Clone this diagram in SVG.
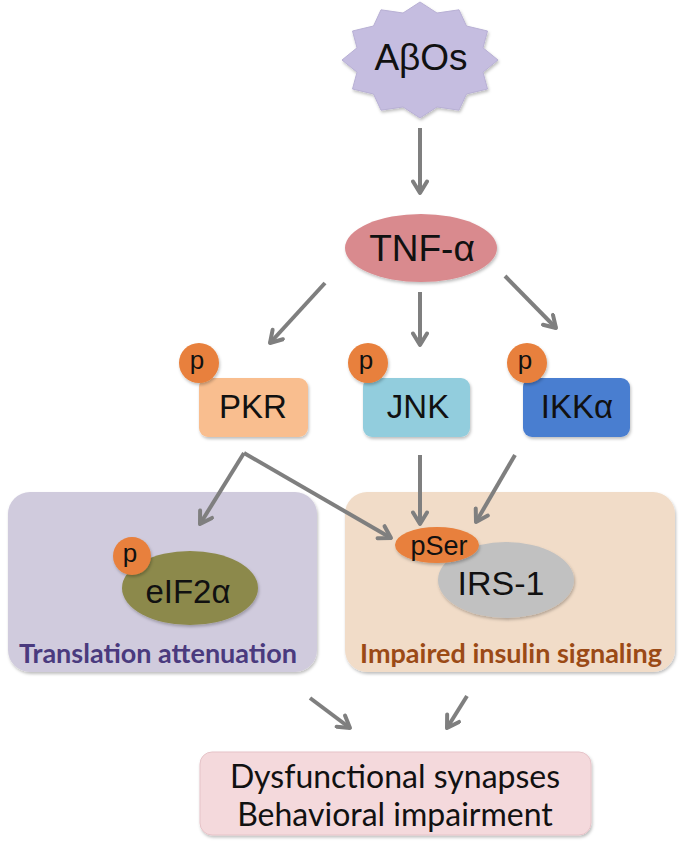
<svg xmlns="http://www.w3.org/2000/svg" width="683" height="850" viewBox="0 0 683 850">
<defs>
<marker id="arr" viewBox="0 0 18 18" refX="15" refY="9" markerWidth="18" markerHeight="18" markerUnits="userSpaceOnUse" orient="auto">
<path d="M3.5,2 L15,9 L3.5,16" fill="none" stroke="#7f7f7f" stroke-width="4" stroke-linecap="round" stroke-linejoin="round"/>
</marker>
<filter id="sh" x="-10%" y="-10%" width="125%" height="130%">
<feDropShadow dx="1" dy="2" stdDeviation="1.5" flood-color="#000" flood-opacity="0.25"/>
</filter>
</defs>
<style>
.lbl{font-family:"Liberation Sans",Arial,sans-serif;fill:#111;text-anchor:middle}
.cal{font-family:Lato,"Open Sans",sans-serif;text-anchor:middle}
.conn line{stroke:#7f7f7f;stroke-width:4;marker-end:url(#arr)}
.pc{fill:#e8803c}
</style>
<rect width="683" height="850" fill="#fff"/>

<g id="panel-translation">
<rect x="8" y="492" width="309" height="180" rx="22" fill="#d0cbdd" filter="url(#sh)"/>
<text class="cal" x="158" y="663" font-size="27" font-weight="bold" fill="#4a3a7e">Translation attenuation</text>
</g>
<g id="panel-insulin">
<rect x="345" y="492" width="330" height="180" rx="22" fill="#f1dcc8" filter="url(#sh)"/>
<text class="cal" x="511" y="663" font-size="27" font-weight="bold" fill="#9b4a16">Impaired insulin signaling</text>
</g>

<g id="abos">
<polygon points="498,60 483,72.2 487.5,89 466.5,94 459,110.2 437,107 420,118 403,107 381,110.2 373.5,94 352.5,89 357,72.2 342,60 357,47.8 352.5,31 373.5,26 381,9.8 403,13 420,2 437,13 459,9.8 466.5,26 487.5,31 483,47.8" fill="#c5bde0" stroke="#b8b0d4" stroke-width="1" stroke-linejoin="round" filter="url(#sh)"/>
<text class="lbl" x="421" y="70" font-size="37">AβOs</text>
</g>

<g id="tnf">
<ellipse cx="421" cy="248" rx="76" ry="34" fill="#d98a8e" filter="url(#sh)"/>
<text class="lbl" x="422" y="261" font-size="37">TNF-α</text>
</g>

<g id="pkr">
<rect x="199" y="378" width="109" height="59" rx="9" fill="#f9be8f" filter="url(#sh)"/>
<text class="lbl" x="253" y="418" font-size="33">PKR</text>
<circle class="pc" cx="199" cy="363" r="20" filter="url(#sh)"/>
<text class="lbl" x="197" y="369" font-size="26">p</text>
</g>
<g id="jnk">
<rect x="363" y="378" width="107" height="59" rx="9" fill="#92cddd" filter="url(#sh)"/>
<text class="lbl" x="418" y="418" font-size="33">JNK</text>
<circle class="pc" cx="368" cy="363" r="20" filter="url(#sh)"/>
<text class="lbl" x="366" y="369" font-size="26">p</text>
</g>
<g id="ikk">
<rect x="523" y="378" width="107" height="59" rx="9" fill="#4a7ed0" filter="url(#sh)"/>
<text class="lbl" x="577" y="418" font-size="33">IKKα</text>
<circle class="pc" cx="527" cy="363" r="20" filter="url(#sh)"/>
<text class="lbl" x="525" y="369" font-size="26">p</text>
</g>

<g id="eif2a">
<ellipse cx="190" cy="588" rx="68" ry="37" fill="#8c894b" filter="url(#sh)"/>
<text class="lbl" x="188" y="603" font-size="33">eIF2α</text>
<circle class="pc" cx="132" cy="556" r="19" filter="url(#sh)"/>
<text class="lbl" x="130" y="562" font-size="26">p</text>
</g>

<g id="irs1">
<ellipse cx="506" cy="580" rx="68" ry="38" fill="#c1c1c1" filter="url(#sh)"/>
<text class="lbl" x="501" y="595" font-size="34">IRS-1</text>
<ellipse class="pc" cx="437" cy="545" rx="42" ry="18" filter="url(#sh)"/>
<text class="lbl" x="439" y="555" font-size="27">pSer</text>
</g>

<g id="outcome">
<rect x="200" y="752" width="391" height="83" rx="12" fill="#f4d9dc" stroke="#e6c3c8" stroke-width="1" filter="url(#sh)"/>
<text class="cal" x="395" y="788" font-size="32" fill="#111">Dysfunctional synapses</text>
<text class="cal" x="395" y="826" font-size="32" fill="#111">Behavioral impairment</text>
</g>

<g id="connectors" class="conn">
<line x1="420" y1="128" x2="420" y2="193"/>
<line x1="325" y1="283" x2="270" y2="343"/>
<line x1="420" y1="292" x2="420" y2="345"/>
<line x1="505" y1="276" x2="556" y2="328"/>
<line x1="244" y1="453" x2="200" y2="524"/>
<line x1="244" y1="453" x2="391" y2="538"/>
<line x1="420" y1="455" x2="420" y2="524"/>
<line x1="515" y1="455" x2="476" y2="522"/>
<line x1="310" y1="698" x2="350" y2="728"/>
<line x1="467" y1="696" x2="447" y2="728"/>
</g>
</svg>
